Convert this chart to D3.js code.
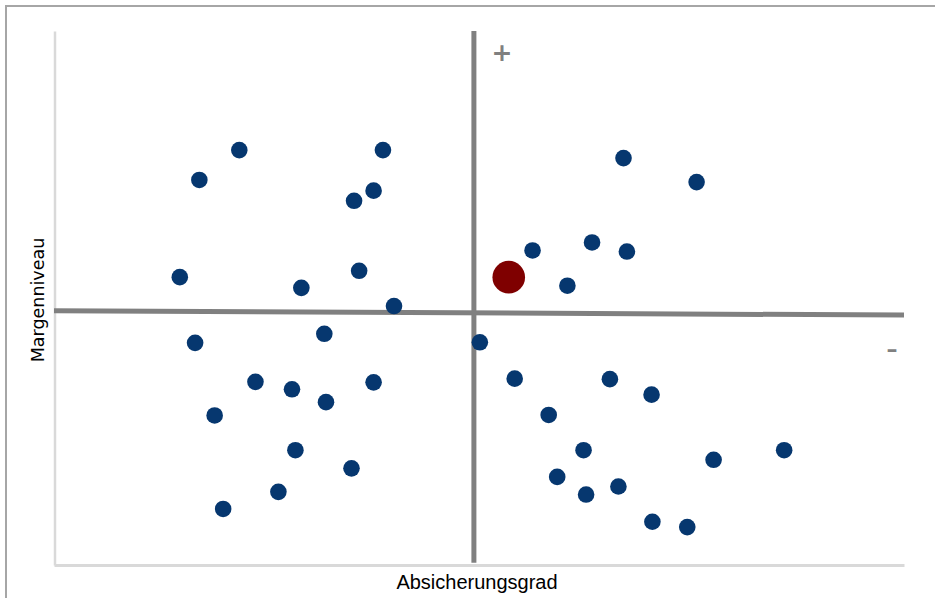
<!DOCTYPE html>
<html>
<head>
<meta charset="utf-8">
<script src="https://cdn.jsdelivr.net/npm/d3@7"></script>
<style>
  body { margin: 0; background: #fff; }
  svg { display: block; }
</style>
</head>
<body>
<script>
// Portfolio points (x = Absicherungsgrad, y = Margenniveau, 0-100)
let xValues = [
    21.8, 17.1, 38.7, 37.6, 35.3, 14.8, 29.1, 35.9, 40.0,
    16.6, 31.8, 23.7, 28.0, 37.6, 32.0, 18.9, 28.4, 35.0, 26.4, 19.9,
    67.0, 75.6, 56.3, 63.3, 67.4, 60.4,
    50.1, 54.2, 65.4, 70.3, 58.2, 62.3, 85.9, 77.6, 59.2, 62.6, 66.4, 70.4, 74.5
];
let yValues = [
    77.7, 72.1, 77.7, 70.1, 68.2, 53.9, 51.9, 55.1, 48.5,
    41.6, 43.3, 34.3, 32.9, 34.2, 30.5, 28.0, 21.5, 18.1, 13.7, 10.5,
    76.2, 71.7, 58.9, 60.4, 58.7, 52.3,
    41.7, 34.9, 34.8, 31.9, 28.1, 21.5, 21.5, 19.7, 16.5, 13.2, 14.7, 8.1, 7.1
];

// highlighted point
let highlightX = [53.5];
let highlightY = [53.9];

// quadrant dividers
let vDividerX = [49.4, 49.4];
let vDividerY = [0.4, 100];
let hDividerX = [0, 100];
let hDividerY = [47.6, 46.8];

function main() {

    let svg = d3.select("body").append("svg")
        .attr("width", 935)
        .attr("height", 598);

    // outer frame (only top and left visible)
    svg.append("rect")
        .attr("x", 6)
        .attr("y", 6)
        .attr("width", 940)
        .attr("height", 600)
        .attr("fill", "none")
        .attr("stroke", "#a6a6a6")
        .attr("stroke-width", 2);

    let xScale = d3.scaleLinear().domain([0, 100]).range([54, 904]);
    let yScale = d3.scaleLinear().domain([0, 100]).range([565, 31]);

    let xAxis = d3.axisBottom(xScale).tickValues([]).tickSizeOuter(0);
    let yAxis = d3.axisLeft(yScale).tickValues([]).tickSizeOuter(0);

    svg.append("g")
        .attr("transform", "translate(0,565)")
        .call(xAxis)
        .select(".domain")
        .attr("stroke", "#d9d9d9")
        .attr("stroke-width", 3);

    svg.append("g")
        .attr("transform", "translate(54.5,0)")
        .call(yAxis)
        .select(".domain")
        .attr("stroke", "#d9d9d9")
        .attr("stroke-width", 2.5);

    let line = d3.line()
        .x(d => xScale(d[0]))
        .y(d => yScale(d[1]));

    svg.append("path")
        .attr("d", line(d3.zip(vDividerX, vDividerY)))
        .attr("stroke", "#808080")
        .attr("stroke-width", 5)
        .attr("fill", "none");

    svg.append("path")
        .attr("d", line(d3.zip(hDividerX, hDividerY)))
        .attr("stroke", "#808080")
        .attr("stroke-width", 5)
        .attr("fill", "none");

    svg.selectAll("circle.pt")
        .data(d3.zip(xValues, yValues))
        .enter()
        .append("circle")
        .attr("class", "pt")
        .attr("cx", d => xScale(d[0]))
        .attr("cy", d => yScale(d[1]))
        .attr("r", 8.3)
        .attr("fill", "#06376f");

    svg.selectAll("circle.hl")
        .data(d3.zip(highlightX, highlightY))
        .enter()
        .append("circle")
        .attr("class", "hl")
        .attr("cx", d => xScale(d[0]))
        .attr("cy", d => yScale(d[1]))
        .attr("r", 16.3)
        .attr("fill", "#7f0000");

    svg.append("text")
        .attr("x", 502)
        .attr("y", 61)
        .attr("text-anchor", "middle")
        .style("font-family", "DejaVu Sans, Verdana, sans-serif")
        .style("font-weight", "bold")
        .style("font-size", "25px")
        .attr("fill", "#808080")
        .text("+");

    svg.append("text")
        .attr("x", 892)
        .attr("y", 357)
        .attr("text-anchor", "middle")
        .style("font-family", "DejaVu Sans, Verdana, sans-serif")
        .style("font-weight", "bold")
        .style("font-size", "22px")
        .attr("fill", "#808080")
        .text("–");

    svg.append("text")
        .attr("x", 477)
        .attr("y", 589)
        .attr("text-anchor", "middle")
        .style("font-family", "Liberation Sans Narrow, Arial Narrow, sans-serif")
        .style("font-size", "20px")
        .attr("fill", "#000")
        .text("Absicherungsgrad");

    svg.append("text")
        .attr("transform", "translate(44,300) rotate(-90)")
        .attr("text-anchor", "middle")
        .style("font-family", "DejaVu Sans, Verdana, sans-serif")
        .style("font-size", "17.5px")
        .attr("fill", "#000")
        .text("Margenniveau");
}

main()
</script>
</body>
</html>
